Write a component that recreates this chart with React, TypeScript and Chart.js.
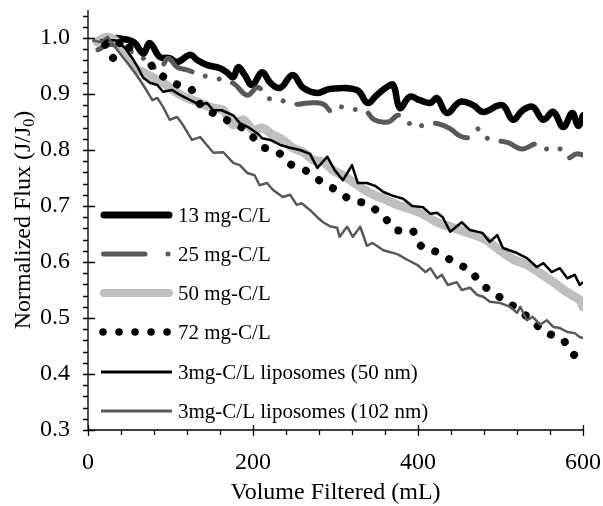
import React, { useEffect, useRef } from "react";
import { Chart, registerables } from "chart.js";

Chart.register(...registerables);

// ---- data (Volume filtered, mL / normalized flux J/J0) ----
const vol13 = [35, 55, 67, 75, 87, 99, 108, 124, 132, 144, 160, 168, 176, 182, 190, 199, 211, 221, 233, 248, 261, 278, 293, 326, 339, 350, 362, 370, 378, 390, 402, 415, 423, 435, 451, 467, 479, 502, 515, 527, 539, 552, 564, 576, 587, 594, 600];
const flux13 = [1.0, 0.993, 0.973, 0.991, 0.966, 0.964, 0.957, 0.97, 0.961, 0.952, 0.946, 0.939, 0.93, 0.948, 0.934, 0.916, 0.939, 0.92, 0.911, 0.934, 0.911, 0.902, 0.909, 0.907, 0.884, 0.898, 0.912, 0.916, 0.875, 0.895, 0.889, 0.884, 0.893, 0.866, 0.886, 0.88, 0.868, 0.88, 0.854, 0.871, 0.877, 0.854, 0.868, 0.841, 0.866, 0.843, 0.862];

const vol25 = [12, 27, 45, 63, 78, 87, 97, 108, 120, 133, 147, 175, 193, 206, 217, 230, 248, 268, 285, 296, 305, 315, 336, 347, 364, 376, 387, 394, 418, 438, 451, 463, 474, 484, 491, 509, 526, 544, 552, 570, 581, 592, 600];
const flux25 = [0.979, 0.989, 0.979, 0.968, 0.95, 0.943, 0.964, 0.948, 0.943, 0.936, 0.93, 0.92, 0.898, 0.912, 0.893, 0.891, 0.882, 0.884, 0.882, 0.868, 0.877, 0.873, 0.87, 0.854, 0.85, 0.862, 0.852, 0.841, 0.848, 0.839, 0.825, 0.823, 0.838, 0.821, 0.818, 0.813, 0.802, 0.811, 0.802, 0.804, 0.786, 0.793, 0.791];

const vol50 = [11, 23, 35, 47, 57, 67, 79, 91, 103, 115, 127, 139, 152, 164, 176, 188, 200, 212, 224, 236, 248, 261, 273, 285, 297, 312, 326, 342, 358, 375, 390, 406, 423, 439, 455, 469, 484, 499, 515, 532, 548, 564, 581, 596, 600];
const flux50 = [0.993, 1.002, 0.993, 0.97, 0.946, 0.939, 0.929, 0.92, 0.907, 0.896, 0.889, 0.882, 0.875, 0.871, 0.845, 0.854, 0.836, 0.839, 0.827, 0.818, 0.804, 0.796, 0.782, 0.779, 0.764, 0.752, 0.738, 0.723, 0.713, 0.702, 0.695, 0.686, 0.671, 0.663, 0.655, 0.648, 0.638, 0.621, 0.605, 0.595, 0.58, 0.564, 0.546, 0.532, 0.52];

const vol72 = [21, 30, 41, 55, 69, 79, 97, 114, 126, 138, 156, 175, 188, 200, 212, 229, 245, 263, 278, 291, 303, 318, 338, 358, 373, 393, 400, 411, 417, 430, 445, 463, 475, 493, 514, 536, 554, 576, 583, 594, 600];
const flux72 = [0.988, 0.964, 0.998, 0.975, 0.973, 0.946, 0.925, 0.913, 0.907, 0.877, 0.863, 0.848, 0.839, 0.823, 0.805, 0.798, 0.775, 0.764, 0.748, 0.736, 0.727, 0.711, 0.704, 0.682, 0.657, 0.657, 0.634, 0.621, 0.621, 0.613, 0.598, 0.586, 0.563, 0.543, 0.523, 0.498, 0.475, 0.461, 0.443, 0.429, 0.432];

const volLipo50 = [15, 33, 45, 55, 61, 67, 75, 84, 91, 102, 112, 124, 136, 144, 152, 162, 176, 184, 194, 205, 211, 221, 233, 245, 257, 269, 278, 290, 299, 309, 320, 327, 338, 348, 358, 370, 382, 393, 406, 415, 423, 430, 439, 453, 463, 478, 487, 496, 503, 520, 532, 544, 552, 562, 572, 581, 590, 596, 600];
const fluxLipo50 = [0.996, 0.996, 0.982, 0.961, 0.946, 0.929, 0.92, 0.916, 0.904, 0.907, 0.898, 0.889, 0.88, 0.884, 0.871, 0.871, 0.862, 0.848, 0.841, 0.83, 0.821, 0.818, 0.809, 0.804, 0.8, 0.793, 0.768, 0.788, 0.764, 0.746, 0.773, 0.741, 0.741, 0.736, 0.725, 0.718, 0.713, 0.7, 0.698, 0.686, 0.688, 0.68, 0.654, 0.671, 0.657, 0.652, 0.636, 0.648, 0.625, 0.616, 0.607, 0.591, 0.598, 0.582, 0.589, 0.571, 0.577, 0.559, 0.564];

const volLipo102 = [5, 15, 24, 33, 42, 53, 63, 72, 78, 84, 91, 99, 108, 115, 126, 136, 144, 152, 164, 176, 184, 193, 202, 208, 217, 224, 236, 245, 253, 259, 269, 278, 285, 293, 302, 305, 314, 321, 330, 338, 345, 358, 375, 387, 399, 409, 415, 423, 429, 436, 447, 453, 463, 472, 479, 487, 499, 512, 520, 524, 532, 539, 548, 556, 564, 572, 581, 590, 596, 600];
const fluxLipo102 = [0.996, 0.993, 1.002, 0.984, 0.966, 0.946, 0.925, 0.904, 0.889, 0.893, 0.877, 0.854, 0.859, 0.845, 0.818, 0.823, 0.809, 0.795, 0.796, 0.777, 0.773, 0.759, 0.755, 0.737, 0.741, 0.729, 0.716, 0.72, 0.702, 0.705, 0.693, 0.68, 0.671, 0.664, 0.661, 0.645, 0.663, 0.645, 0.663, 0.629, 0.634, 0.621, 0.614, 0.604, 0.595, 0.582, 0.589, 0.571, 0.577, 0.559, 0.564, 0.55, 0.554, 0.541, 0.538, 0.529, 0.527, 0.52, 0.509, 0.52, 0.496, 0.502, 0.488, 0.496, 0.484, 0.482, 0.475, 0.473, 0.466, 0.464];

const seriesLabels = ["13 mg-C/L", "25 mg-C/L", "50 mg-C/L", "72 mg-C/L", "3mg-C/L liposomes (50 nm)", "3mg-C/L liposomes (102 nm)"];
const xTickValues = [0, 200, 400, 600];
const yTickValues = [0.3, 0.4, 0.5, 0.6, 0.7, 0.8, 0.9, 1.0];
const xTitle = "Volume Filtered (mL)";
const yTitleMain = "Normalized Flux (J/J";
const yTitleSub = "0";
const yTitleEnd = ")";

const DARK = "#595959";
const LIGHT = "#bfbfbf";
const FONT = "'Liberation Serif', 'Times New Roman', serif";

const pts = (xs: number[], ys: number[]) => xs.map((x, i) => ({ x, y: ys[i] }));

const styles = [
  { color: "#000", width: 6.5, dash: [] as number[], cap: "round", tension: 0.4 },
  { color: DARK, width: 5, dash: [36, 14, 0.01, 14, 0.01, 14], cap: "round", tension: 0.4 },
  { color: LIGHT, width: 9, dash: [] as number[], cap: "round", tension: 0.3 },
  { color: "#000", width: 8, dash: [0.01, 16], cap: "round", tension: 0.2 },
  { color: "#000", width: 2.5, dash: [] as number[], cap: "butt", tension: 0 },
  { color: DARK, width: 2.5, dash: [] as number[], cap: "butt", tension: 0 },
];

const noPad = (s: any) => {
  s.paddingLeft = 0;
  s.paddingRight = 0;
  s.paddingTop = 0;
  s.paddingBottom = 0;
};

const axesPlugin = {
  id: "axesPlugin",
  afterDraw(chart: any) {
    const ctx = chart.ctx;
    const xs = chart.scales.x;
    const ys = chart.scales.y;
    const { left, right, top, bottom } = chart.chartArea;
    ctx.save();
    ctx.strokeStyle = "#000";
    ctx.lineWidth = 1.3;
    ctx.beginPath();
    ctx.moveTo(left, top);
    ctx.lineTo(left, bottom);
    ctx.moveTo(left, bottom);
    ctx.lineTo(right, bottom);
    for (let v = 30; v <= 104; v += 2) {
      const py = Math.round(ys.getPixelForValue(v / 100)) + 0.5;
      ctx.moveTo(left - 5, py);
      ctx.lineTo(v % 10 === 0 ? left + 7 : left, py);
    }
    for (let v = 0; v <= 600; v += 40) {
      const px = Math.round(xs.getPixelForValue(v)) + 0.5;
      if (v % 200 === 0) {
        ctx.moveTo(px, bottom - 5);
        ctx.lineTo(px, bottom + 6);
      } else {
        ctx.moveTo(px, bottom);
        ctx.lineTo(px, bottom + 5);
      }
    }
    ctx.stroke();

    ctx.fillStyle = "#000";
    ctx.font = `24px ${FONT}`;
    ctx.textAlign = "center";
    ctx.textBaseline = "middle";
    ctx.fillText(xTitle, (left + right) / 2, 493);

    ctx.translate(22, (top + bottom) / 2);
    ctx.rotate(-Math.PI / 2);
    ctx.font = `24px ${FONT}`;
    const wMain = ctx.measureText(yTitleMain).width;
    const wEnd = ctx.measureText(yTitleEnd).width;
    ctx.font = `16px ${FONT}`;
    const wSub = ctx.measureText(yTitleSub).width;
    const total = wMain + wSub + wEnd;
    let cx = -total / 2;
    ctx.textAlign = "left";
    ctx.textBaseline = "alphabetic";
    ctx.font = `24px ${FONT}`;
    ctx.fillText(yTitleMain, cx, 8);
    cx += wMain;
    ctx.font = `16px ${FONT}`;
    ctx.fillText(yTitleSub, cx, 12);
    cx += wSub;
    ctx.font = `24px ${FONT}`;
    ctx.fillText(yTitleEnd, cx, 8);
    ctx.restore();

    ctx.save();
    const rowY = [215, 254, 293, 332, 372, 411];
    const x0 = 101;
    const x1 = 172;
    styles.forEach((s, i) => {
      const y = rowY[i];
      ctx.strokeStyle = s.color;
      ctx.lineWidth = i === 0 ? 7 : i === 2 ? 8 : i === 3 ? 7.5 : i >= 4 ? 3 : s.width;
      ctx.lineCap = s.cap;
      ctx.beginPath();
      if (i === 1) {
        ctx.setLineDash([]);
        ctx.moveTo(x0 + 2.5, y);
        ctx.lineTo(x0 + 44, y);
        ctx.stroke();
        ctx.beginPath();
        ctx.moveTo(168, y);
        ctx.lineTo(168.01, y);
        ctx.stroke();
      } else if (i === 3) {
        ctx.setLineDash([0.01, 16]);
        ctx.moveTo(x0 + 2, y);
        ctx.lineTo(x1, y);
        ctx.stroke();
      } else {
        ctx.setLineDash([]);
        ctx.moveTo(i === 0 || i === 2 ? x0 + 3 : x0, y);
        ctx.lineTo(i === 0 || i === 2 ? x1 - 3 : x1, y);
        ctx.stroke();
      }
      ctx.setLineDash([]);
      ctx.fillStyle = "#000";
      ctx.font = `21px ${FONT}`;
      ctx.textAlign = "left";
      ctx.textBaseline = "middle";
      ctx.fillText(seriesLabels[i], 178, y + 1);
    });
    ctx.restore();
  },
};

export default function App() {
  const ref = useRef<HTMLCanvasElement | null>(null);
  useEffect(() => {
    if (!ref.current) return;
    const all = [
      pts(vol13, flux13),
      pts(vol25, flux25),
      pts(vol50, flux50),
      pts(vol72, flux72),
      pts(volLipo50, fluxLipo50),
      pts(volLipo102, fluxLipo102),
    ];
    const chart = new Chart(ref.current, {
      type: "line",
      data: {
        datasets: all.map((d, i) => ({
          label: seriesLabels[i],
          data: d,
          borderColor: styles[i].color,
          borderWidth: styles[i].width,
          borderDash: styles[i].dash,
          borderCapStyle: styles[i].cap as any,
          borderJoinStyle: "round" as any,
          pointRadius: 0,
          tension: styles[i].tension,
          cubicInterpolationMode: "default" as any,
          fill: false,
          order: 6 - i,
        })),
      },
      options: {
        responsive: false,
        animation: false,
        devicePixelRatio: 1,
        layout: { padding: { top: 10, right: 20, left: 0, bottom: 0 } },
        plugins: { legend: { display: false }, tooltip: { enabled: false } },
        scales: {
          x: {
            type: "linear",
            min: 0,
            max: 600,
            afterBuildTicks: (s: any) => {
              s.ticks = xTickValues.map((v) => ({ value: v }));
            },
            afterFit: (s: any) => {
              s.height = 76;
              noPad(s);
            },
            ticks: {
              color: "#000",
              font: { family: FONT, size: 24 },
              padding: 10,
              maxRotation: 0,
              callback: (v: any) => String(v),
            },
            grid: { display: false },
            border: { display: false },
          },
          y: {
            type: "linear",
            min: 0.3,
            max: 1.05,
            afterBuildTicks: (s: any) => {
              s.ticks = yTickValues.map((v) => ({ value: v }));
            },
            afterFit: (s: any) => {
              s.width = 88;
              noPad(s);
            },
            ticks: {
              color: "#000",
              font: { family: FONT, size: 24 },
              padding: 10,
              callback: (v: any) => Number(v).toFixed(1),
            },
            grid: { display: false },
            border: { display: false },
          },
        },
      },
      plugins: [axesPlugin],
    });
    return () => chart.destroy();
  }, []);
  return (
    <div style={{ position: "fixed", left: 0, top: 0, width: 603, height: 506, background: "#fff" }}>
      <canvas ref={ref} width={603} height={506} style={{ width: 603, height: 506 }} />
    </div>
  );
}
